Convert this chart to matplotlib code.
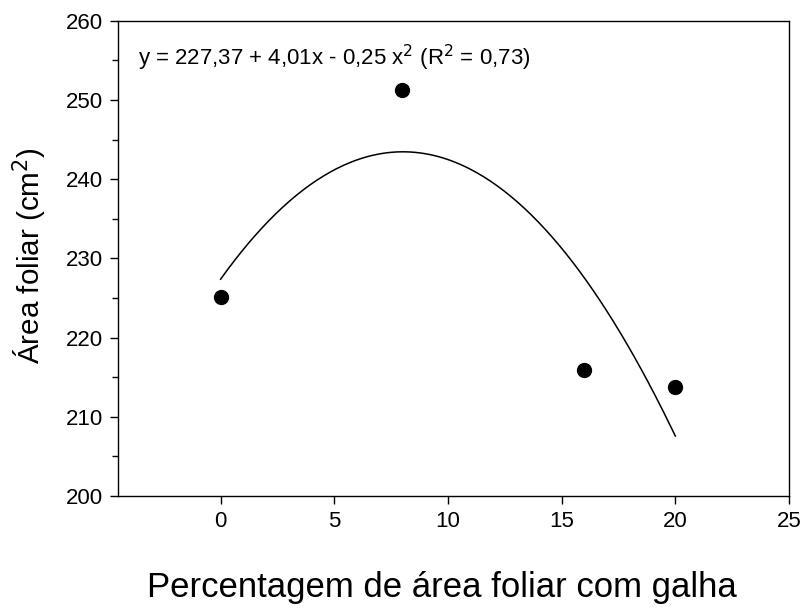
import numpy as np
import matplotlib
matplotlib.use("Agg")
import matplotlib.pyplot as plt
from matplotlib.ticker import MultipleLocator

plt.rcParams['font.family'] = ['Liberation Sans', 'DejaVu Sans']

x_pts = [0, 8, 16, 20]
y_pts = [225.1, 251.2, 215.9, 213.7]
coef = [227.37, 4.01, -0.25]
equation = "y = 227,37 + 4,01x - 0,25 x$^2$ (R$^2$ = 0,73)"
xlabel = "Percentagem de área foliar com galha"
ylabel = "Área foliar (cm$^2$)"

W, H = 806, 610
fig = plt.figure(figsize=(W/100, H/100), dpi=100)
ax = fig.add_axes([118.3/W, 1-496/H, (789-118.3)/W, (496-20.7)/H])

xc = np.linspace(0, 20, 200)
yc = coef[0] + coef[1]*xc + coef[2]*xc**2
ax.plot(xc, yc, color='black', lw=1.1)
ax.plot(x_pts, y_pts, 'o', color='black', markersize=10)

ax.set_xlim(-4.5, 25)
ax.set_ylim(200, 260)
ax.set_xticks([0, 5, 10, 15, 20, 25])
ax.set_yticks(range(200, 261, 10))
ax.yaxis.set_minor_locator(MultipleLocator(5))
ax.tick_params(which='major', direction='out', length=6, width=1, labelsize=16, pad=5)
ax.tick_params(which='minor', direction='out', length=4, width=1)
for s in ax.spines.values():
    s.set_linewidth(1)

fig.text(138/W, 1-58/H, equation, fontsize=16, va='center', ha='left')
fig.text(442/W, 1-597/H, xlabel, fontsize=25, va='baseline', ha='center')
fig.text(30/W, 1-255.5/H, ylabel, fontsize=21.3, va='center', ha='center', rotation=90)

fig.savefig("out.png", dpi=100)
